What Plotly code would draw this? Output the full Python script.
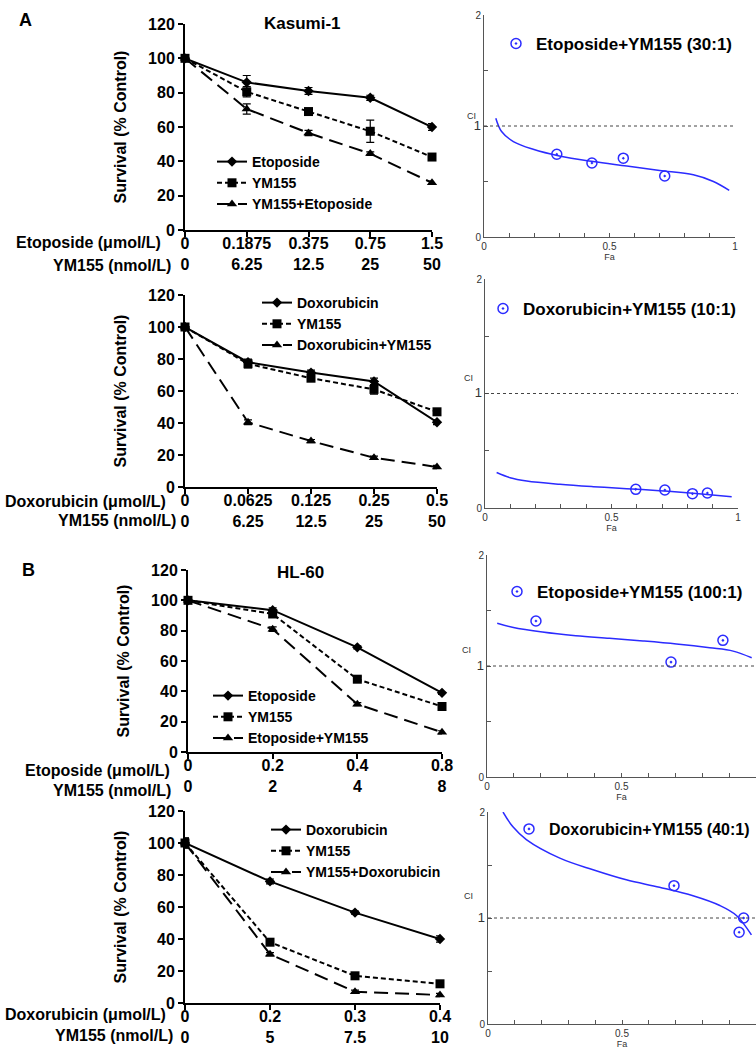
import plotly.graph_objects as go

W, H = 756, 1051
FONT = "Liberation Sans, Arial, sans-serif"


def fx(p):
    return p / W


def fy(p):
    return 1 - p / H


# ---------------- DATA ----------------
# Panel A, Kasumi-1, etoposide
a1_drug_ticks = ["0", "0.1875", "0.375", "0.75", "1.5"]
a1_ym_ticks = ["0", "6.25", "12.5", "25", "50"]
a1_drug = [100, 86, 81, 77, 60]
a1_drug_err = [1.5, 4, 2, 1.5, 2]
a1_ym = [100, 80.5, 69, 57.5, 42.5]
a1_ym_err = [1.5, 3, 1.5, 6.5, 2]
a1_combo = [100, 70.5, 56.5, 44.5, 27.5]
a1_combo_err = [1.5, 3, 1.5, 1, 1]

# Panel A, Kasumi-1, doxorubicin
a2_drug_ticks = ["0", "0.0625", "0.125", "0.25", "0.5"]
a2_ym_ticks = ["0", "6.25", "12.5", "25", "50"]
a2_drug = [100, 78, 71.5, 66, 40.5]
a2_drug_err = [1, 2, 1.5, 2, 1.5]
a2_ym = [100, 77, 68, 61, 47]
a2_ym_err = [1, 2.5, 1.5, 3, 1.5]
a2_combo = [100, 40.5, 28.7, 18.3, 12.5]
a2_combo_err = [1, 1.5, 1, 1, 1]

# Panel B, HL-60, etoposide
b1_drug_ticks = ["0", "0.2", "0.4", "0.8"]
b1_ym_ticks = ["0", "2", "4", "8"]
b1_drug = [100, 93.5, 69, 39]
b1_drug_err = [2, 1.5, 1, 1]
b1_ym = [100, 91, 48, 30]
b1_ym_err = [2, 2, 1.5, 1]
b1_combo = [100, 81, 31.5, 13]
b1_combo_err = [1, 1.5, 1, 1]

# Panel B, HL-60, doxorubicin
b2_drug_ticks = ["0", "0.2", "0.3", "0.4"]
b2_ym_ticks = ["0", "5", "7.5", "10"]
b2_drug = [100, 76, 56.5, 40]
b2_drug_err = [3, 1.5, 1, 2]
b2_ym = [100, 38, 17, 12]
b2_ym_err = [3, 1.5, 1.5, 1]
b2_combo = [100, 30.5, 7, 5]
b2_combo_err = [3, 1, 1, 1]

# Combination index (CI) plots: fitted curve samples and observed points
ci1_curve_fa = [0.047, 0.07, 0.117, 0.196, 0.30, 0.435, 0.569, 0.70, 0.834, 0.914, 0.977]
ci1_curve_ci = [1.07, 0.95, 0.86, 0.79, 0.73, 0.68, 0.64, 0.60, 0.56, 0.50, 0.42]
ci1_pts_fa = [0.29, 0.43, 0.555, 0.72]
ci1_pts_ci = [0.745, 0.667, 0.71, 0.55]

ci2_curve_fa = [0.046, 0.099, 0.165, 0.296, 0.428, 0.56, 0.69, 0.823, 0.975]
ci2_curve_ci = [0.31, 0.265, 0.236, 0.207, 0.186, 0.169, 0.151, 0.128, 0.099]
ci2_pts_fa = [0.596, 0.711, 0.82, 0.879]
ci2_pts_ci = [0.163, 0.157, 0.125, 0.131]

ci3_curve_fa = [0.038, 0.094, 0.206, 0.33, 0.455, 0.58, 0.704, 0.828, 0.915, 0.984]
ci3_curve_ci = [1.385, 1.35, 1.306, 1.273, 1.249, 1.225, 1.198, 1.164, 1.134, 1.074]
ci3_pts_fa = [0.182, 0.684, 0.877]
ci3_pts_ci = [1.405, 1.035, 1.231]

ci4_curve_fa = [0.056, 0.093, 0.143, 0.268, 0.392, 0.516, 0.64, 0.765, 0.865, 0.927, 0.983]
ci4_curve_ci = [2.0, 1.86, 1.74, 1.565, 1.455, 1.36, 1.29, 1.21, 1.118, 1.024, 0.84]
ci4_pts_fa = [0.694, 0.954, 0.937]
ci4_pts_ci = [1.305, 1.0, 0.866]

# ---------------- FIGURE ----------------
fig = go.Figure()
layout = dict(
    width=W, height=H, margin=dict(l=0, r=0, t=0, b=0, autoexpand=False),
    paper_bgcolor="white", plot_bgcolor="white",
    font=dict(family=FONT, color="black"),
    showlegend=True, annotations=[], shapes=[],
)

BOLD16 = dict(family=FONT, size=16, color="black", weight="bold")


def axis_names(i):
    return ("x" if i == 1 else f"x{i}", "y" if i == 1 else f"y{i}",
            "xaxis" if i == 1 else f"xaxis{i}", "yaxis" if i == 1 else f"yaxis{i}")


def add_left(i, drug_ticks, ym_ticks, series, xdom, ydom, legend_key, legend_xy,
             row1, row2, row_y, row_right):
    xr, yr, xk, yk = axis_names(i)
    n = len(drug_ticks)
    for name, vals, err, sym, size, dash in series:
        fig.add_trace(go.Scatter(
            x=drug_ticks, y=vals, name=name, mode="lines+markers",
            error_y=dict(type="data", array=err, color="black", thickness=1.2, width=4),
            line=dict(color="black", width=2, dash=dash),
            marker=dict(symbol=sym, size=size, color="black"),
            xaxis=xr, yaxis=yr, legend=legend_key, cliponaxis=False,
        ))
    layout[xk] = dict(
        domain=[fx(xdom[0]), fx(xdom[1])], anchor=yr, type="category",
        range=[0, n - 1], tickmode="array", tickvals=drug_ticks,
        ticktext=[f"{a}<br>{b}" for a, b in zip(drug_ticks, ym_ticks)],
        showline=True, linecolor="black", linewidth=2, ticks="outside",
        ticklen=5, tickwidth=2, tickcolor="black", tickfont=BOLD16,
        ticklabelstandoff=-7,
        showgrid=False, zeroline=False, automargin=False,
    )
    layout[yk] = dict(
        domain=[fy(ydom[0]), fy(ydom[1])], anchor=xr, range=[0, 120],
        tick0=0, dtick=20, showline=True, linecolor="black", linewidth=2,
        ticks="outside", ticklen=5, tickwidth=2, tickcolor="black",
        tickfont=BOLD16, showgrid=False, zeroline=False, automargin=False,
        title=dict(text="Survival (% Control)", font=BOLD16, standoff=17),
    )
    layout[legend_key] = dict(
        x=fx(legend_xy[0]), y=fy(legend_xy[1]), xanchor="left", yanchor="middle",
        bgcolor="rgba(0,0,0,0)", borderwidth=0, traceorder="normal",
        font=dict(family=FONT, size=14, color="black", weight="bold"),
    )
    for txt, yy, xx in zip((row1, row2), row_y, row_right):
        layout["annotations"].append(dict(
            text=txt, x=fx(xx), y=fy(yy), xref="paper", yref="paper",
            xanchor="right", yanchor="middle", showarrow=False, font=BOLD16))


SOLID, SHORT, LONG = "solid", "5px,3px", "14px,7px"

add_left(1, a1_drug_ticks, a1_ym_ticks, [
    ("Etoposide", a1_drug, a1_drug_err, "diamond", 8, SOLID),
    ("YM155", a1_ym, a1_ym_err, "square", 9, SHORT),
    ("YM155+Etoposide", a1_combo, a1_combo_err, "triangle-up", 9, LONG),
], (185, 432), (230, 24), "legend", (212, 183),
    "Etoposide (\u03bcmol/L)", "YM155 (nmol/L)", (243, 265), (163, 173))

add_left(2, a2_drug_ticks, a2_ym_ticks, [
    ("Doxorubicin", a2_drug, a2_drug_err, "diamond", 8, SOLID),
    ("YM155", a2_ym, a2_ym_err, "square", 9, SHORT),
    ("Doxorubicin+YM155", a2_combo, a2_combo_err, "triangle-up", 9, LONG),
], (185, 437), (487, 295), "legend2", (257, 324),
    "Doxorubicin (\u03bcmol/L)", "YM155 (nmol/L)", (501, 520), (168, 178))

add_left(3, b1_drug_ticks, b1_ym_ticks, [
    ("Etoposide", b1_drug, b1_drug_err, "diamond", 8, SOLID),
    ("YM155", b1_ym, b1_ym_err, "square", 9, SHORT),
    ("Etoposide+YM155", b1_combo, b1_combo_err, "triangle-up", 9, LONG),
], (188, 442), (752, 570), "legend3", (208, 717),
    "Etoposide (\u03bcmol/L)", "YM155 (nmol/L)", (770, 790), (172, 173))

add_left(4, b2_drug_ticks, b2_ym_ticks, [
    ("Doxorubicin", b2_drug, b2_drug_err, "diamond", 8, SOLID),
    ("YM155", b2_ym, b2_ym_err, "square", 9, SHORT),
    ("YM155+Doxorubicin", b2_combo, b2_combo_err, "triangle-up", 9, LONG),
], (185, 440), (1003, 811), "legend4", (266, 851),
    "Doxorubicin (\u03bcmol/L)", "YM155 (nmol/L)", (1014, 1035), (168, 175))

BLUE = "#2b2bff"
GREY = "#555555"


def add_ci(i, curve_fa, curve_ci, pts_fa, pts_ci, label, xdom, ydom, xmax, xticks,
           legend_key, legend_xy, ci_xy, legend_size=17):
    xr, yr, xk, yk = axis_names(i)
    fig.add_trace(go.Scatter(
        x=curve_fa, y=curve_ci, mode="lines", line=dict(color=BLUE, width=1.5, shape="spline"),
        showlegend=False, xaxis=xr, yaxis=yr, hoverinfo="skip"))
    fig.add_trace(go.Scatter(
        x=pts_fa, y=pts_ci, mode="markers", name=label,
        marker=dict(symbol="circle-open-dot", size=10, color=BLUE, line=dict(width=1.5, color=BLUE)),
        xaxis=xr, yaxis=yr, legend=legend_key, cliponaxis=False))
    small = dict(family=FONT, size=10, color="#333333")
    layout[xk] = dict(
        domain=[fx(xdom[0]), fx(xdom[1])], anchor=yr, range=[0, xmax],
        tickmode="array", tickvals=xticks, ticktext=[("%g" % v) for v in xticks],
        ticks="inside", ticklen=4, tickwidth=1, tickcolor=GREY,
        minor=dict(tickmode="array", tickvals=[0.1, 0.2, 0.3, 0.4, 0.6, 0.7, 0.8, 0.9],
                   ticks="inside", ticklen=4, tickwidth=1, tickcolor=GREY),
        showline=True, linecolor=GREY, linewidth=1, showgrid=False, zeroline=False,
        tickfont=small, automargin=False,
        title=dict(text="Fa", font=dict(family=FONT, size=9, color="#333333"), standoff=1),
    )
    layout[yk] = dict(
        domain=[fy(ydom[0]), fy(ydom[1])], anchor=xr, range=[0, 2],
        tickmode="array", tickvals=[0, 1, 2],
        ticktext=["0", '<span style="font-size:13px">1</span>', "2"],
        ticks="inside", ticklen=4, tickwidth=1, tickcolor=GREY,
        minor=dict(tickmode="array", tickvals=[0.5, 1.5], ticks="inside", ticklen=4,
                   tickwidth=1, tickcolor=GREY),
        showline=True, linecolor=GREY, linewidth=1, showgrid=False, zeroline=False,
        tickfont=small, automargin=False,
    )
    layout["shapes"].append(dict(
        type="line", xref=f"{xr} domain", yref=yr, x0=0, x1=1, y0=1, y1=1,
        line=dict(color="#444444", width=1, dash="dot")))
    layout[legend_key] = dict(
        x=fx(legend_xy[0]), y=fy(legend_xy[1]), xanchor="left", yanchor="middle",
        bgcolor="rgba(0,0,0,0)", borderwidth=0,
        font=dict(family=FONT, size=legend_size, color="black", weight="bold"),
    )
    layout["annotations"].append(dict(
        text="CI", x=fx(ci_xy[0]), y=fy(ci_xy[1]), xref="paper", yref="paper",
        showarrow=False, font=dict(family=FONT, size=9, color="#333333")))


add_ci(5, ci1_curve_fa, ci1_curve_ci, ci1_pts_fa, ci1_pts_ci, "Etoposide+YM155 (30:1)",
       (484, 735), (237, 15), 1, [0, 0.5, 1], "legend5", (496, 44), (471, 109))
add_ci(6, ci2_curve_fa, ci2_curve_ci, ci2_pts_fa, ci2_pts_ci, "Doxorubicin+YM155 (10:1)",
       (485, 738), (508, 279), 1, [0, 0.5, 1], "legend6", (483, 309), (468, 378))
add_ci(7, ci3_curve_fa, ci3_curve_ci, ci3_pts_fa, ci3_pts_ci, "Etoposide+YM155 (100:1)",
       (487, 756), (777, 555), 1, [0, 0.5], "legend7", (497, 592), (467, 650))
add_ci(8, ci4_curve_fa, ci4_curve_ci, ci4_pts_fa, ci4_pts_ci, "Doxorubicin+YM155 (40:1)",
       (488, 756), (1024, 812), 1, [0, 0.5], "legend8", (509, 829), (468, 903),
       legend_size=16)

# Titles and panel letters
for txt, x, y, size in [("Kasumi-1", 302, 24, 17), ("HL-60", 300, 572, 17)]:
    layout["annotations"].append(dict(
        text=txt, x=fx(x), y=fy(y), xref="paper", yref="paper", showarrow=False,
        xanchor="center", yanchor="middle",
        font=dict(family=FONT, size=size, color="black", weight="bold")))
for txt, x, y in [("A", 17, 20), ("B", 20, 570)]:
    layout["annotations"].append(dict(
        text=txt, x=fx(x), y=fy(y), xref="paper", yref="paper", showarrow=False,
        xanchor="left", yanchor="middle",
        font=dict(family=FONT, size=18, color="black", weight="bold")))

fig.update_layout(**layout)
fig.write_html(
    "out.html",
    config={"displayModeBar": False},
    post_script="document.body.style.margin='0px';document.body.style.overflow='hidden';",
)
